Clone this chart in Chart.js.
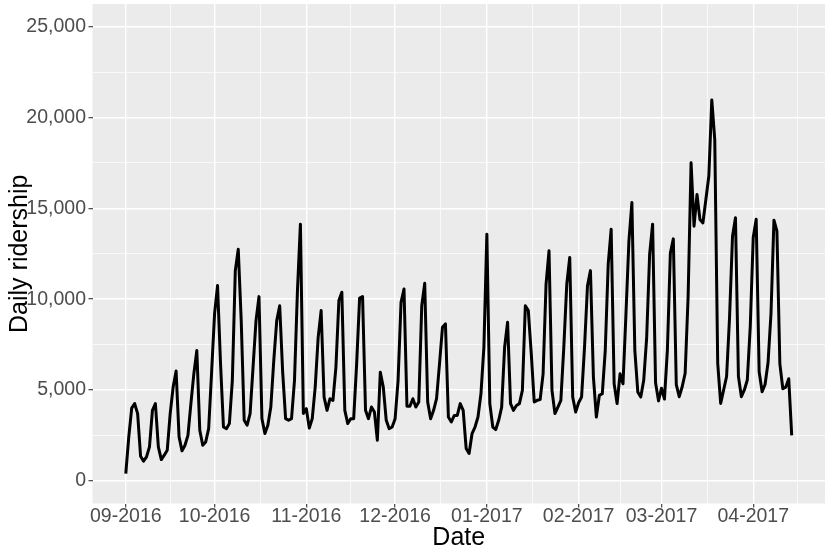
<!DOCTYPE html>
<html>
<head>
<meta charset="utf-8">
<script src="https://cdn.jsdelivr.net/npm/chart.js@4.4.1/dist/chart.umd.min.js"></script>
<style>
  body { margin: 0; background: #fff; }
</style>
</head>
<body>
<canvas id="ridershipChart" width="830" height="553"></canvas>
<script>
// daily values, one per day starting at startDate
const startDate = '2016-09-01';
const ridership = [
  400, 2400, 4000, 4250, 3700, 1350, 1080,
  1320, 1870, 3880, 4250, 1870, 1170, 1410,
  1680, 3700, 5160, 6040, 2420, 1650, 1960,
  2500, 4250, 5900, 7170, 2780, 1960, 2140,
  2870, 6000, 9200, 10750, 6500, 2960, 2870,
  3150, 5530, 11570, 12750, 8820, 3330, 3060,
  3700, 6260, 8820, 10140, 3420, 2600, 3060,
  4060, 6620, 8820, 9640, 6000, 3420, 3330,
  3420, 5530, 10470, 14130, 3700, 3970, 2900,
  3420, 5160, 7900, 9370, 4610, 3880, 4520,
  4430, 6260, 9920, 10380, 3880, 3150, 3420,
  3420, 6440, 10060, 10140, 3880, 3420, 4060,
  3790, 2230, 5980, 5160, 3330, 2870, 2960,
  3420, 5530, 9830, 10560, 4100, 4100, 4520,
  4060, 4340, 9640, 10870, 4340, 3420, 3880,
  4520, 6440, 8450, 8640, 3510, 3240, 3600,
  3600, 4250, 3880, 1780, 1500, 2600, 2960,
  3510, 4790, 7360, 13580, 4250, 2960, 2820,
  3330, 4060, 7360, 8730, 4250, 3880, 4150,
  4250, 4980, 9640, 9370, 7000, 4340, 4430,
  4470, 5890, 10830, 12660, 4980, 3700, 4060,
  4430, 7360, 10830, 12300, 4610, 3790, 4300,
  4610, 7360, 10740, 11570, 5710, 3510, 4700,
  4790, 7170, 11930, 13850, 5340, 4250, 5890,
  5340, 9190, 13210, 15320, 7170, 4890, 4610,
  5530, 7900, 12480, 14130, 5400, 4400, 5100,
  4500, 7210, 12540, 13320, 5300, 4630, 5180,
  5920, 10150, 17510, 14020, 15760, 14380, 14200,
  15490, 16780, 20970, 18800, 6470, 4260, 5000,
  5740, 9000, 13460, 14480, 5740, 4630, 5000,
  5550, 8500, 13400, 14400, 6000, 4900, 5300,
  6500, 9200, 14350, 13760, 6440, 5070, 5160,
  5620, 2500
];

const monthStarts = ['2016-09-01', '2016-10-01', '2016-11-01', '2016-12-01',
  '2017-01-01', '2017-02-01', '2017-03-01', '2017-04-01'];
const monthLabels = ['09-2016', '10-2016', '11-2016', '12-2016',
  '01-2017', '02-2017', '03-2017', '04-2017'];
const nextMonth = '2017-05-01';
const yTicks = [0, 5000, 10000, 15000, 20000, 25000];

function dayOf(d) {
  return (Date.parse(d) - Date.parse(startDate)) / 86400000;
}

// ggplot style limits: 5% expansion
const lastDay = ridership.length - 1;
const xMin = -0.05 * lastDay;
const xMax = lastDay * 1.05;
const yMin = -0.05 * 25000;
const yMax = 25000 * 1.05;

const majorX = monthStarts.map(dayOf);
const allX = majorX.concat([dayOf(nextMonth)]);
const minorX = [];
for (let i = 0; i < allX.length - 1; i++) {
  const m = (allX[i] + allX[i + 1]) / 2;
  if (m > xMin && m < xMax) minorX.push(m);
}
const xTickValues = majorX.concat(minorX).sort((a, b) => a - b);

const minorY = [];
for (let i = 0; i < yTicks.length - 1; i++) minorY.push((yTicks[i] + yTicks[i + 1]) / 2);
const yTickValues = yTicks.concat(minorY).sort((a, b) => a - b);

function comma(v) {
  return String(v).replace(/\B(?=(\d{3})+(?!\d))/g, ',');
}

const fontFamily = '"Liberation Sans", Arial, sans-serif';

const panelBg = {
  id: 'panelBg',
  beforeDraw(chart) {
    const { ctx, chartArea: a } = chart;
    ctx.save();
    ctx.fillStyle = '#ffffff';
    ctx.fillRect(0, 0, chart.width, chart.height);
    ctx.fillStyle = '#EBEBEB';
    ctx.fillRect(a.left, a.top, a.right - a.left, a.bottom - a.top);
    ctx.restore();
  }
};

let ctx = document.getElementById('ridershipChart').getContext('2d');

let ridershipChart = new Chart(ctx, {
  type: 'line',
  data: {
    datasets: [{
      data: ridership.map((v, i) => ({ x: i, y: v })),
      borderColor: '#000000',
      borderWidth: 3,
      borderJoinStyle: 'round',
      pointRadius: 0,
      tension: 0,
      fill: false
    }]
  },
  options: {
    responsive: false,
    animation: false,
    layout: { padding: { left: 0, right: 5, top: 4, bottom: 0 } },
    plugins: {
      legend: { display: false },
      tooltip: { enabled: false }
    },
    scales: {
      x: {
        type: 'linear',
        min: xMin,
        max: xMax,
        afterBuildTicks: s => { s.ticks = xTickValues.map(v => ({ value: v })); },
        afterFit: s => { s.height = 49.5; },
        border: { display: false },
        grid: {
          color: '#ffffff',
          lineWidth: c => (c.tick && majorX.includes(c.tick.value)) ? 1.4 : 0.7,
          tickLength: 4,
          tickWidth: 1.1,
          tickColor: c => (c.tick && majorX.includes(c.tick.value)) ? '#333333' : 'rgba(0,0,0,0)'
        },
        ticks: {
          autoSkip: false,
          maxRotation: 0,
          padding: -3,
          color: '#4D4D4D',
          font: { family: fontFamily, size: 19.5 },
          callback: v => {
            const i = majorX.indexOf(v);
            return i >= 0 ? monthLabels[i] : '';
          }
        },
        title: {
          display: true,
          text: 'Date',
          color: '#000000',
          font: { family: fontFamily, size: 25 },
          padding: { top: 0, bottom: 0 }
        }
      },
      y: {
        min: yMin,
        max: yMax,
        afterBuildTicks: s => { s.ticks = yTickValues.map(v => ({ value: v })); },
        afterFit: s => {
          s.width = 92.5;
          s.paddingTop = 0;
          s.paddingBottom = 0;
        },
        border: { display: false },
        grid: {
          color: '#ffffff',
          lineWidth: c => (c.tick && yTicks.includes(c.tick.value)) ? 1.4 : 0.7,
          tickLength: 4,
          tickWidth: 1.1,
          tickColor: c => (c.tick && yTicks.includes(c.tick.value)) ? '#333333' : 'rgba(0,0,0,0)'
        },
        ticks: {
          padding: 2.5,
          color: '#4D4D4D',
          font: { family: fontFamily, size: 19.5 },
          callback: v => yTicks.includes(v) ? comma(v) : ''
        },
        title: {
          display: true,
          text: 'Daily ridership',
          color: '#000000',
          font: { family: fontFamily, size: 25 },
          padding: { top: 5, bottom: 0 }
        }
      }
    }
  },
  plugins: [panelBg]
});
</script>
</body>
</html>
